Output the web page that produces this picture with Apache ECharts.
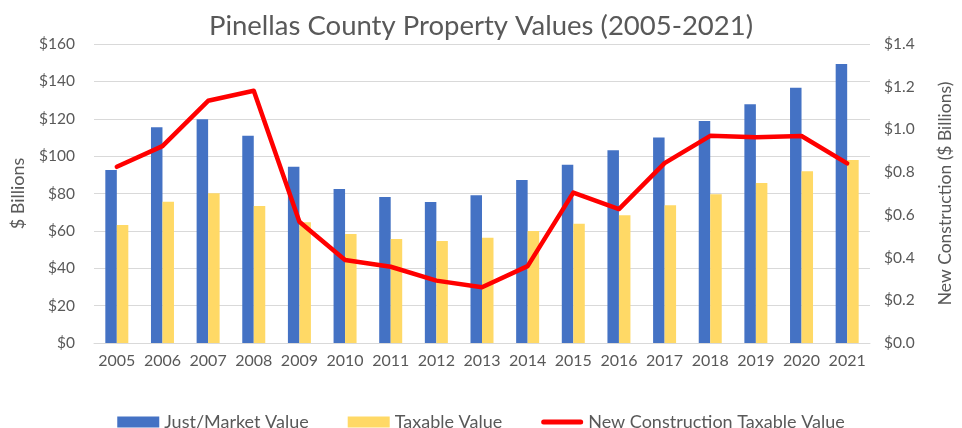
<!DOCTYPE html>
<html>
<head>
<meta charset="utf-8">
<script src="https://cdn.jsdelivr.net/npm/echarts@6/dist/echarts.min.js"></script>
<style>
  html, body { margin: 0; padding: 0; background: #fff; }
  #chart { width: 962px; height: 428px; }
</style>
</head>
<body>
<div id="chart"></div>
<script>
// 年份
var years = ['2005', '2006', '2007', '2008', '2009', '2010', '2011', '2012', '2013',
  '2014', '2015', '2016', '2017', '2018', '2019', '2020', '2021']
// 市场价值（十亿美元）
var justMarketValue = [92.6, 115.4, 119.7, 110.9, 94.3, 82.4, 78.1, 75.4, 79.0,
  87.2, 95.4, 103.1, 109.9, 118.8, 127.7, 136.6, 149.3]
// 应税价值
var taxableValue = [63.1, 75.6, 80.1, 73.3, 64.6, 58.3, 55.6, 54.6, 56.3,
  59.9, 63.8, 68.3, 73.7, 79.6, 85.6, 91.9, 97.9]
// 新建应税价值（右轴）
var newConstruction = [0.825, 0.922, 1.134, 1.181, 0.568, 0.389, 0.357, 0.292, 0.261,
  0.360, 0.704, 0.627, 0.842, 0.970, 0.963, 0.969, 0.841]

var font = 'Lato, "Open Sans", sans-serif'
var textColor = '#595959'
// 图例里的红线：上下各放一个极小的点，撑开包围盒，让线只有 5px 粗
var lineIcon = 'path://M0,0L0.01,0ZM2.5,3H39.5A2.5,2.5,0,0,1,39.5,8H2.5A2.5,2.5,0,0,1,2.5,3ZM0,11L0.01,11Z'

var chart = echarts.init(document.getElementById('chart'))
chart.setOption({
  animation: false,
  textStyle: { fontFamily: font, color: textColor },
  title: {
    text: 'Pinellas County Property Values (2005-2021)',
    left: 'center',
    top: 7,
    textStyle: { fontFamily: font, fontSize: 27.5, fontWeight: 'normal', color: textColor }
  },
  legend: {
    top: 408,
    left: 'center',
    itemWidth: 42,
    itemHeight: 11,
    itemGap: 39,
    textStyle: { fontFamily: font, fontSize: 18, color: textColor },
    data: [
      { name: 'Just/Market Value', icon: 'rect' },
      { name: 'Taxable Value', icon: 'rect' },
      { name: 'New Construction Taxable Value', icon: lineIcon }
    ]
  },
  grid: {
    left: 94,
    right: 84,
    top: 44,
    bottom: 85
  },
  xAxis: {
    type: 'category',
    data: years,
    axisTick: { show: false },
    axisLine: { lineStyle: { color: '#d9d9d9', width: 1 } },
    axisLabel: { fontFamily: font, fontSize: 16, color: textColor, margin: 10, interval: 0, hideOverlap: false }
  },
  yAxis: [
    {
      type: 'value',
      min: 0,
      max: 160,
      interval: 20,
      name: '$ Billions',
      nameLocation: 'middle',
      nameGap: 67,
      nameTextStyle: { fontFamily: font, fontSize: 18, color: textColor },
      axisLine: { show: false },
      axisTick: { show: false },
      splitLine: { lineStyle: { color: '#d9d9d9', width: 1 } },
      axisLabel: {
        fontFamily: font, fontSize: 15.5, color: textColor, margin: 19,
        formatter: function (v) { return '$' + v }
      }
    },
    {
      type: 'value',
      min: 0,
      max: 1.4,
      interval: 0.2,
      name: 'New Construction ($ Billions)',
      nameLocation: 'middle',
      nameGap: 66,
      nameTextStyle: { fontFamily: font, fontSize: 17.5, color: textColor },
      axisLine: { show: false },
      axisTick: { show: false },
      splitLine: { show: false },
      axisLabel: {
        fontFamily: font, fontSize: 15.5, color: textColor, margin: 14,
        formatter: function (v) { return '$' + v.toFixed(1) }
      }
    }
  ],
  series: [
    {
      name: 'Just/Market Value',
      type: 'bar',
      data: justMarketValue,
      barWidth: 11.5,
      barGap: '0%',
      itemStyle: { color: '#4472c4' }
    },
    {
      name: 'Taxable Value',
      type: 'bar',
      data: taxableValue,
      barWidth: 11.5,
      barGap: '0%',
      itemStyle: { color: '#ffd966' }
    },
    {
      name: 'New Construction Taxable Value',
      type: 'line',
      yAxisIndex: 1,
      data: newConstruction,
      symbol: 'none',
      lineStyle: { color: '#ff0000', width: 4.5, join: 'round', cap: 'round' },
      itemStyle: { color: '#ff0000' }
    }
  ]
})
</script>
</body>
</html>
